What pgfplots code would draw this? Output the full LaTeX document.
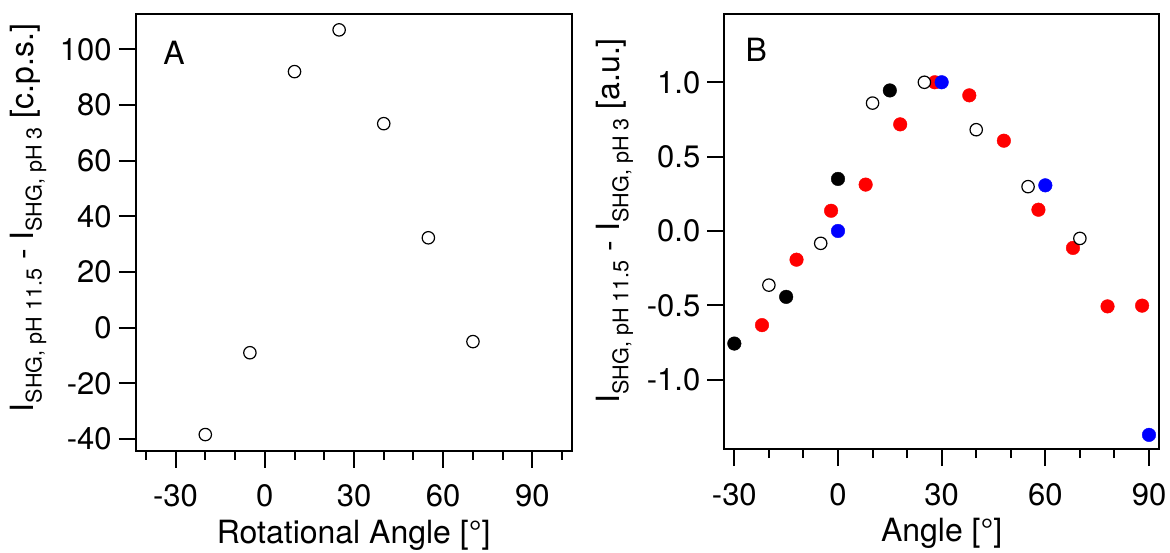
\documentclass[border=0pt]{standalone}
\usepackage{fontspec}
\setmainfont{TeX Gyre Heros}
\usepackage{pgfplots}
\pgfplotsset{compat=1.18}
\definecolor{ptred}{RGB}{255,0,0}
\definecolor{ptblue}{RGB}{0,0,255}

% lowered, smaller subscript for the I_SHG labels
\newcommand{\sub}[1]{\raisebox{-4.2pt}{\fontsize{10.8}{12}\selectfont #1}}

\pgfplotsset{
  panel/.style={
    scale only axis,
    axis line style={line width=1pt},
    every tick/.style={black, line width=1pt},
    tick align=outside, tick pos=left,
    major tick length=8.5pt, minor tick length=4.5pt,
    /pgf/number format/assume math mode=true,
    tick label style={font=\fontsize{15.5}{18}\selectfont},
    xticklabel style={anchor=base, yshift=-19.6pt},
    label style={font=\fontsize{16}{19}\selectfont},
  },
  openpt/.style={only marks, mark=*, mark size=3.1pt,
    mark options={draw=black, fill=white, line width=0.6pt}},
  fillpt/.style={only marks, mark=*, mark size=3.4pt,
    mark options={draw=#1, fill=#1, line width=0.2pt}},
}

\begin{document}
\begin{tikzpicture}
\path[use as bounding box] (0,0) rectangle (585pt,276pt);

% panel A
\begin{axis}[panel,
  at={(67.85pt,50.65pt)}, anchor=south west,
  width=218pt, height=218.2pt,
  xmin=-43.4, xmax=103.2, ymin=-44.2, ymax=112.6,
  xtick={-30,0,30,60,90},
  minor xtick={-40,-20,-10,10,20,40,50,70,80,100},
  ytick={-40,-20,0,20,40,60,80,100},
  xlabel={Rotational Angle [°]},
  xlabel style={at={(axis description cs:0.5,0)}, anchor=base, yshift=-46.3pt},
  ylabel={I\sub{SHG, pH 11.5} - I\sub{SHG, pH 3} [c.p.s.]},
  ylabel style={at={(axis description cs:-0.2349,0.533)}, anchor=base},
]
\addplot[openpt] coordinates {(-20,-38.4) (-5,-9.0) (10,92) (25,107) (40,73.3) (55,32.3) (70,-5.0)};
\node[anchor=north west, inner sep=0pt, font=\fontsize{16}{19}\selectfont]
  at (axis description cs:0.0626,0.939) {A};
\end{axis}

% panel B
\begin{axis}[panel,
  at={(362.15pt,51.5pt)}, anchor=south west,
  width=217.35pt, height=217.35pt,
  xmin=-32.9, xmax=92.9, ymin=-1.466, ymax=1.457,
  xtick={-30,0,30,60,90},
  minor xtick={-20,-10,10,20,40,50,70,80},
  ytick={-1,-0.5,0,0.5,1},
  yticklabel style={/pgf/number format/.cd, fixed, fixed zerofill, precision=1},
  xlabel={Angle [°]},
  xlabel style={at={(axis description cs:0.5,0)}, anchor=base, yshift=-46.3pt},
  ylabel={I\sub{SHG, pH 11.5} - I\sub{SHG, pH 3} [a.u.]},
  ylabel style={at={(axis description cs:-0.240,0.525)}, anchor=base},
]
\addplot[fillpt=ptred] coordinates {(-22,-0.633) (-12,-0.193) (-2,0.136) (8,0.312) (18,0.717) (28,1.0) (38,0.912) (48,0.607) (58,0.143) (68,-0.114) (78,-0.507) (88,-0.502)};
\addplot[openpt] coordinates {(-20,-0.364) (-5,-0.083) (10,0.86) (25,1.0) (40,0.681) (55,0.298) (70,-0.05)};
\addplot[fillpt=black] coordinates {(-30,-0.757) (-15,-0.443) (0,0.35) (15,0.945)};
\addplot[fillpt=ptblue] coordinates {(0,0) (30,1.0) (60,0.307) (90,-1.371)};
\node[anchor=north west, inner sep=0pt, font=\fontsize{16}{19}\selectfont]
  at (axis description cs:0.048,0.945) {B};
\end{axis}
\end{tikzpicture}
\end{document}
